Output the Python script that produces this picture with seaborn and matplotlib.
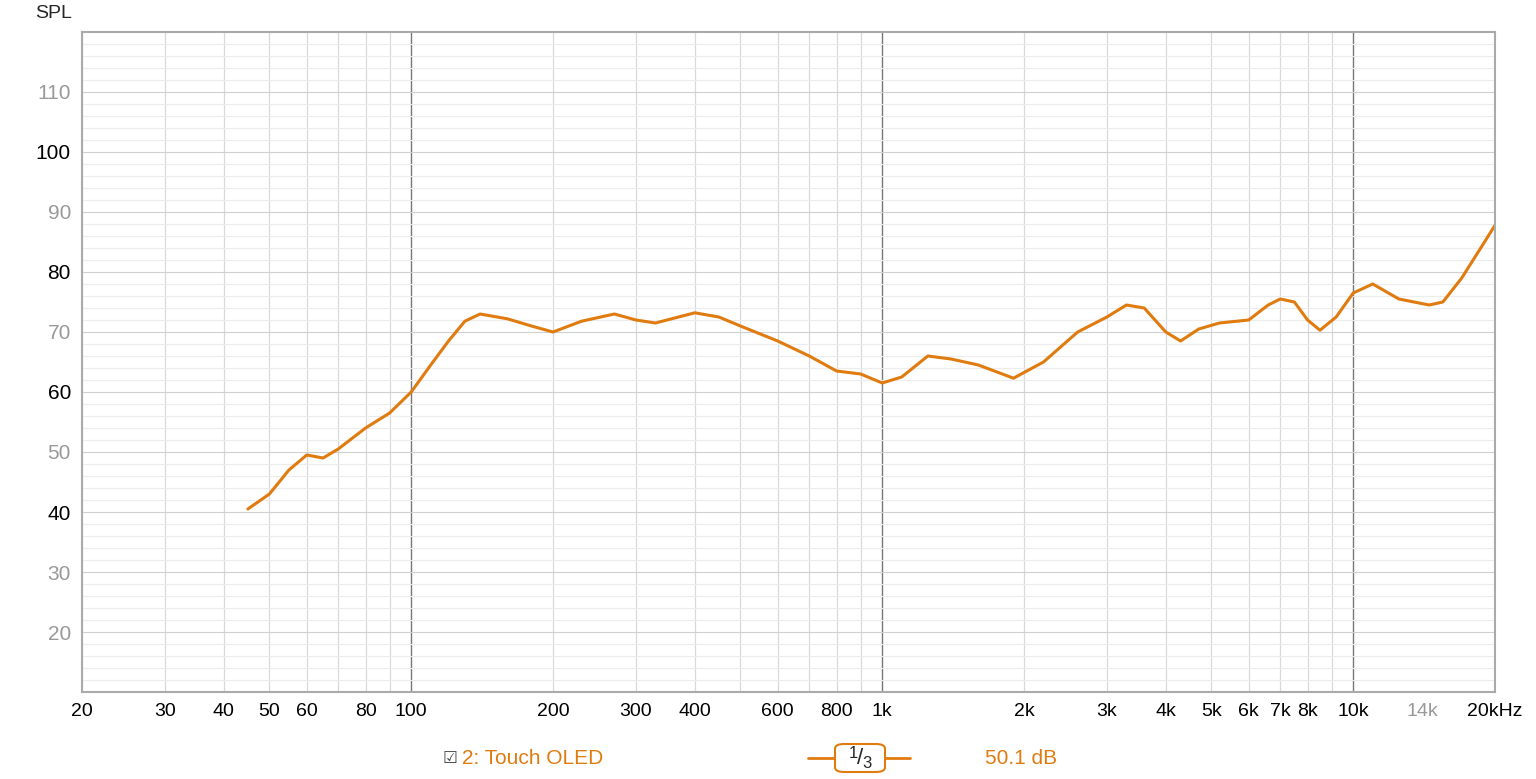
import matplotlib
matplotlib.use("Agg")
import matplotlib.pyplot as plt
import seaborn as sns
import numpy as np
import pandas as pd
from matplotlib.patches import FancyBboxPatch

freq = [45, 50, 55, 60, 65, 70, 80, 90, 100, 110, 120, 130, 140, 160, 180, 200, 230, 270, 300, 330, 400, 450,
        500, 600, 700, 800, 900, 1000, 1100, 1250, 1400, 1600, 1900, 2200, 2600, 3000, 3300, 3600,
        4000, 4300, 4700, 5200, 6000, 6600, 7000, 7500, 8000, 8500, 9200, 10000, 11000, 12500,
        14500, 15500, 17000, 19000, 20000]
spl = [40.5, 43, 47, 49.5, 49, 50.5, 54, 56.5, 60, 64.5, 68.5, 71.8, 73, 72.2, 71, 70, 71.8, 73, 72, 71.5, 73.2, 72.5,
       71, 68.5, 66, 63.5, 63, 61.5, 62.5, 66, 65.5, 64.5, 62.3, 65, 70, 72.5, 74.5, 74,
       70, 68.5, 70.5, 71.5, 72, 74.5, 75.5, 75, 72, 70.3, 72.5, 76.5, 78, 75.5,
       74.5, 75, 79, 85, 87.8]
xticks = [20, 30, 40, 50, 60, 80, 100, 200, 300, 400, 600, 800, 1000, 2000, 3000, 4000, 5000,
          6000, 7000, 8000, 10000, 14000, 20000]
xlabels = ["20", "30", "40", "50", "60", "80", "100", "200", "300", "400", "600", "800", "1k", "2k",
           "3k", "4k", "5k", "6k", "7k", "8k", "10k", "14k", "20kHz"]
yticks = [20, 30, 40, 50, 60, 70, 80, 90, 100, 110]

sns.set_style("white")
plt.rcParams['font.family'] = ['Liberation Sans', 'DejaVu Sans']
fig = plt.figure(figsize=(15.36, 7.79), dpi=100)
ax = fig.add_axes([82/1536, 87/779, 1413/1536, 660/779])
df = pd.DataFrame({"f": freq, "spl": spl})
sns.lineplot(data=df, x="f", y="spl", ax=ax, color="#E07B10", lw=2.2)
ax.set_xscale("log")
ax.set_xlim(20, 20000)
ax.set_ylim(10, 120)

for d in [10, 100, 1000, 10000]:
    for m in range(1, 10):
        v = d * m
        if v < 20 or v > 20000:
            continue
        if m == 1:
            ax.axvline(v, color="#777777", lw=1, zorder=0)
        else:
            ax.axvline(v, color="#d8d8d8", lw=0.9, zorder=0)
for y in range(12, 120, 2):
    c = "#d0d0d0" if y % 10 == 0 else "#ececec"
    ax.axhline(y, color=c, lw=0.8, zorder=0)

ax.set_xticks(xticks)
ax.set_xticklabels(xlabels, fontsize=14)
ax.xaxis.set_minor_locator(matplotlib.ticker.NullLocator())
for lbl, v in zip(ax.get_xticklabels(), xticks):
    lbl.set_color("#999999" if v == 14000 else "black")
ax.set_yticks(yticks)
ax.set_yticklabels([str(y) for y in yticks], fontsize=15)
for lbl, v in zip(ax.get_yticklabels(), yticks):
    lbl.set_color("black" if v in (40, 60, 80, 100) else "#999999")
ax.tick_params(length=0, pad=8)
ax.set_xlabel("")
ax.set_ylabel("")
for s in ax.spines.values():
    s.set_color("#aaaaaa")
    s.set_linewidth(1.5)

fig.text(35/1536, 1 - 14/779, "SPL", fontsize=14, va="center")
fig.text(443/1536, 1 - 758/779, "☑", fontsize=12, va="center", color="#444444", family="DejaVu Sans")
fig.text(462/1536, 1 - 758/779, "2: Touch OLED", fontsize=15, va="center", color="#E07B10")
fig.text(985/1536, 1 - 758/779, "50.1 dB", fontsize=15, va="center", color="#E07B10")
fig.add_artist(matplotlib.lines.Line2D([808/1536, 910/1536], [1 - 758/779] * 2, color="#E07B10", lw=2, zorder=1))
fig.add_artist(FancyBboxPatch((835/1536, 1 - 772/779), 50/1536, 28/779,
                              boxstyle="round,pad=0,rounding_size=0.006", fc="white", ec="#E07B10", lw=1.5, zorder=2))
fig.text(853/1536, 1 - 753/779, "1", fontsize=12, va="center", ha="center", zorder=5)
fig.text(860/1536, 1 - 758/779, "/", fontsize=16, va="center", ha="center", zorder=5)
fig.text(867/1536, 1 - 764/779, "3", fontsize=12, va="center", ha="center", zorder=5)
fig.savefig("out.png", dpi=100)
